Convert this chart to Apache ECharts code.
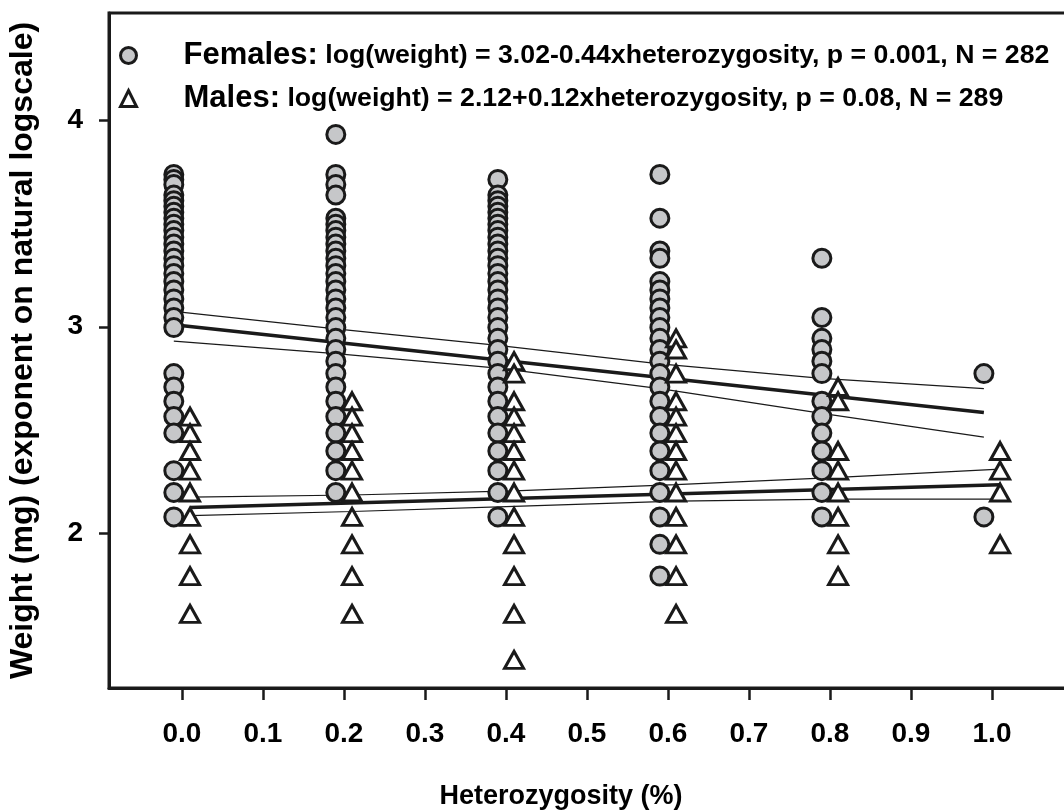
<!DOCTYPE html>
<html>
<head>
<meta charset="utf-8">
<script src="https://cdn.jsdelivr.net/npm/echarts@6/dist/echarts.min.js"></script>
<style>
  html, body { margin: 0; padding: 0; background: #fff; }
  #main { width: 1064px; height: 812px; }
</style>
</head>
<body>
<div id="main"></div>
<script>
// log(weight) per heterozygosity class
var femaleX = [-0.01, 0.19, 0.39, 0.59, 0.79, 0.99];
var femaleY = [
	[3.738, 3.714, 3.689, 3.638, 3.611, 3.584, 3.555, 3.526, 3.497, 3.466, 3.434, 3.401, 3.367, 3.332, 3.296, 3.258, 3.219, 3.178, 3.135, 3.091, 3.045, 2.996, 2.773, 2.708, 2.639, 2.565, 2.485, 2.303, 2.197, 2.079],
	[3.932, 3.738, 3.689, 3.638, 3.526, 3.497, 3.466, 3.434, 3.401, 3.367, 3.332, 3.296, 3.258, 3.219, 3.178, 3.135, 3.091, 3.045, 2.996, 2.944, 2.890, 2.833, 2.773, 2.708, 2.639, 2.565, 2.485, 2.398, 2.303, 2.197],
	[3.714, 3.638, 3.611, 3.584, 3.555, 3.526, 3.497, 3.466, 3.434, 3.401, 3.367, 3.332, 3.296, 3.258, 3.219, 3.178, 3.135, 3.091, 3.045, 2.996, 2.944, 2.890, 2.833, 2.773, 2.708, 2.639, 2.565, 2.485, 2.398, 2.303, 2.197, 2.079],
	[3.738, 3.526, 3.367, 3.332, 3.219, 3.178, 3.135, 3.091, 3.045, 2.996, 2.944, 2.890, 2.833, 2.773, 2.708, 2.639, 2.565, 2.485, 2.398, 2.303, 2.197, 2.079, 1.946, 1.792],
	[3.332, 3.045, 2.944, 2.890, 2.833, 2.773, 2.639, 2.565, 2.485, 2.398, 2.303, 2.197, 2.079],
	[2.773, 2.079]
];
var maleX = [0.01, 0.21, 0.41, 0.61, 0.81, 1.01];
var maleY = [
	[2.565, 2.485, 2.398, 2.303, 2.197, 2.079, 1.946, 1.792, 1.609],
	[2.639, 2.565, 2.485, 2.398, 2.303, 2.197, 2.079, 1.946, 1.792, 1.609],
	[2.833, 2.773, 2.639, 2.565, 2.485, 2.398, 2.303, 2.197, 2.079, 1.946, 1.792, 1.609, 1.386],
	[2.944, 2.890, 2.773, 2.639, 2.565, 2.485, 2.398, 2.303, 2.197, 2.079, 1.946, 1.792, 1.609],
	[2.708, 2.639, 2.398, 2.303, 2.197, 2.079, 1.946, 1.792],
	[2.398, 2.303, 2.197, 1.946]
];

// regression lines + confidence bands
var femaleFitX = [-0.01, 0.99];
var femaleFitY = [3.01, 2.585];
var femaleBandX = [-0.01, 0.19, 0.39, 0.59, 0.79, 0.99];
var femaleUpperY = [3.075, 2.99, 2.91, 2.82, 2.75, 2.70];
var femaleLowerY = [2.93, 2.87, 2.80, 2.70, 2.58, 2.465];
var maleFitX = [0.01, 1.01];
var maleFitY = [2.125, 2.235];
var maleBandX = [0.01, 0.21, 0.41, 0.61, 0.81, 1.01];
var maleUpperY = [2.175, 2.185, 2.205, 2.235, 2.27, 2.31];
var maleLowerY = [2.085, 2.105, 2.13, 2.155, 2.165, 2.165];

var xTicks = [0, 0.1, 0.2, 0.3, 0.4, 0.5, 0.6, 0.7, 0.8, 0.9, 1.0];
var yTicks = [2, 3, 4];

var legendText = {
	'Females': 'log(weight) = 3.02-0.44xheterozygosity, p = 0.001, N = 282',
	'Males': 'log(weight) = 2.12+0.12xheterozygosity, p = 0.08, N = 289'
};

function columnPoints(xs, ys) {
	var pts = [];
	xs.forEach(function (x, i) {
		ys[i].forEach(function (y) { pts.push([x, y]); });
	});
	return pts;
}
function pairs(xs, ys) {
	return xs.map(function (x, i) { return [x, ys[i]]; });
}
function fitLine(data, width) {
	return {
		type: 'line', data: data, symbol: 'none', z: 2, silent: true,
		lineStyle: { color: '#1a1a1a', width: width }
	};
}

var FONT = 'Liberation Sans, Arial, sans-serif';
var INK = '#1a1a1a';

var dom = document.getElementById("main");
var myChart = echarts.init(dom, null, { renderer: 'canvas' });
var option = null;
option = {
	animation: false,
	backgroundColor: '#fff',
	textStyle: { fontFamily: FONT },
	grid: {
		left: 109, top: 13, width: 964, bottom: 124,
		outerBoundsMode: 'none',
		containLabel: false,
		show: true, borderColor: INK, borderWidth: 3
	},
	legend: {
		data: ['Females', 'Males'],
		orient: 'vertical',
		left: 114, top: 35,
		itemWidth: 16, itemHeight: 16, itemGap: 12,
		selectedMode: false,
		itemStyle: { borderWidth: 3 },
		formatter: function (name) {
			return '{a|' + name + ':}{b| ' + legendText[name] + '}';
		},
		textStyle: {
			color: '#000',
			rich: {
				a: { fontFamily: FONT, fontSize: 31, fontWeight: 'bold', lineHeight: 34, padding: [0, 0, 0, 42] },
				b: { fontFamily: FONT, fontSize: 26.7, fontWeight: 'bold', lineHeight: 34 }
			}
		}
	},
	xAxis: {
		type: 'value',
		min: -0.09, max: 1.1,
		name: 'Heterozygosity (%)',
		nameLocation: 'middle',
		nameGap: 95,
		nameTextStyle: { fontFamily: FONT, fontSize: 27, fontWeight: 'bold', color: '#000', padding: [0, 60, 0, 0] },
		axisLine: { onZero: false, lineStyle: { color: INK, width: 3 } },
		axisTick: { show: true, length: 12, customValues: xTicks, lineStyle: { color: INK, width: 2.5 } },
		axisLabel: {
			customValues: xTicks, margin: 32,
			fontFamily: FONT, fontSize: 28, fontWeight: 'bold', color: '#000',
			formatter: function (v) { return v.toFixed(1); }
		},
		splitLine: { show: false }
	},
	yAxis: {
		type: 'value',
		min: 1.25, max: 4.52,
		name: 'Weight (mg) (exponent on natural logscale)',
		nameLocation: 'middle',
		nameRotate: 90,
		nameGap: 70,
		nameTextStyle: { fontFamily: FONT, fontSize: 32, fontWeight: 'bold', color: '#000' },
		axisLine: { show: true, onZero: false, lineStyle: { color: INK, width: 3 } },
		axisTick: { show: true, length: 10, customValues: yTicks, lineStyle: { color: INK, width: 2.5 } },
		axisLabel: {
			customValues: yTicks, margin: 26,
			fontFamily: FONT, fontSize: 28, fontWeight: 'bold', color: '#000'
		},
		splitLine: { show: false }
	},
	series: [
		fitLine(pairs(femaleBandX, femaleUpperY), 1.2),
		fitLine(pairs(femaleBandX, femaleLowerY), 1.2),
		fitLine(pairs(femaleFitX, femaleFitY), 3.5),
		fitLine(pairs(maleBandX, maleUpperY), 1.2),
		fitLine(pairs(maleBandX, maleLowerY), 1.2),
		fitLine(pairs(maleFitX, maleFitY), 3.5),
		{
			name: 'Females', type: 'scatter', z: 3,
			symbol: 'circle', symbolSize: 18,
			itemStyle: { color: '#c6c7c9', borderColor: INK, borderWidth: 3, opacity: 1 },
			data: columnPoints(femaleX, femaleY)
		},
		{
			name: 'Males', type: 'scatter', z: 4,
			symbol: 'triangle', symbolSize: [19, 17],
			itemStyle: { color: '#fff', borderColor: INK, borderWidth: 3, opacity: 1 },
			data: columnPoints(maleX, maleY)
		}
	]
};
if (option && typeof option === "object") {
	myChart.setOption(option, true);
}
</script>
</body>
</html>
